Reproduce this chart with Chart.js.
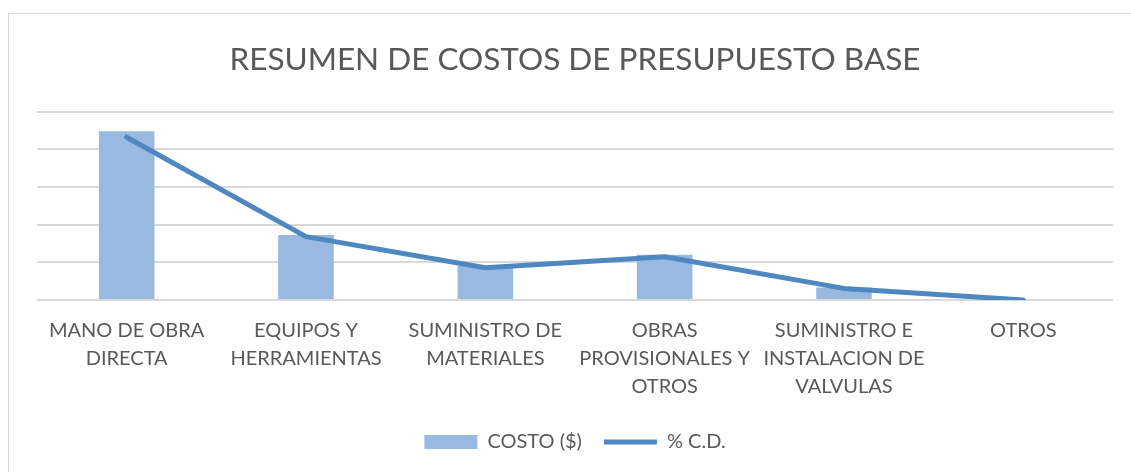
<!DOCTYPE html>
<html>
<head>
<meta charset="utf-8">
<script src="https://cdn.jsdelivr.net/npm/chart.js@4/dist/chart.umd.min.js"></script>
<style>
  html, body { margin: 0; padding: 0; background: #fff; }
  #frame {
    position: absolute; left: 8px; top: 13px; width: 1200px; height: 500px;
    border-left: 1px solid #d9d9d9; border-top: 1px solid #d9d9d9;
  }
  #wrap { position: absolute; left: 0; top: 0; width: 1131px; height: 472px; }
</style>
</head>
<body>
<div id="frame"></div>
<div id="wrap"><canvas id="chart" width="1131" height="472"></canvas></div>
<script>
// --- Data ---
const categories = [
  ['MANO DE OBRA', 'DIRECTA'],
  ['EQUIPOS Y', 'HERRAMIENTAS'],
  ['SUMINISTRO DE', 'MATERIALES'],
  ['OBRAS', 'PROVISIONALES Y', 'OTROS'],
  ['SUMINISTRO E', 'INSTALACION DE', 'VALVULAS'],
  ['OTROS']
];
const costo = [4.48, 1.73, 0.90, 1.20, 0.33, 0];        // bar heights (axis units, labels hidden)
const pctCD = [51.9, 20.2, 10.3, 13.8, 3.7, 0];          // % C.D. on secondary axis

const textColor = '#595959';
const fontFamily = 'Lato, "Open Sans", sans-serif';

new Chart(document.getElementById('chart').getContext('2d'), {
  data: {
    labels: categories,
    datasets: [
      {
        type: 'bar',
        label: 'COSTO ($)',
        data: costo,
        backgroundColor: '#9AB9E0',
        borderWidth: 0,
        barPercentage: 0.31,
        categoryPercentage: 1,
        pointStyle: 'rect',
        yAxisID: 'y',
        order: 1
      },
      {
        type: 'line',
        label: '% C.D.',
        data: pctCD,
        borderColor: '#4F88C1',
        backgroundColor: '#4F88C1',
        borderWidth: 5,
        borderCapStyle: 'round',
        borderJoinStyle: 'round',
        pointRadius: 0,
        pointStyle: 'line',
        tension: 0,
        yAxisID: 'y1',
        order: 0
      }
    ]
  },
  options: {
    responsive: false,
    animation: false,
    layout: { padding: { left: 37, right: 18, top: 0, bottom: 10 } },
    plugins: {
      title: {
        display: true,
        text: 'RESUMEN DE COSTOS DE PRESUPUESTO BASE',
        color: textColor,
        font: { size: 31.5, family: fontFamily, weight: 'normal' },
        padding: { top: 41, bottom: 33 }
      },
      legend: {
        position: 'bottom',
        labels: {
          usePointStyle: true,
          pointStyleWidth: 53,
          boxHeight: 14,
          padding: 22,
          color: textColor,
          font: { size: 20, family: fontFamily },
          sort: (a, b) => a.datasetIndex - b.datasetIndex
        }
      },
      tooltip: { enabled: false }
    },
    scales: {
      x: {
        grid: { display: false },
        border: { display: false },
        ticks: {
          color: textColor,
          maxRotation: 0,
          autoSkip: false,
          padding: 9,
          font: { size: 20, family: fontFamily, lineHeight: 1.4 }
        }
      },
      y: {
        min: 0, max: 5,
        ticks: { display: false, stepSize: 1 },
        border: { display: false },
        grid: { color: '#d9d9d9', lineWidth: 2, drawTicks: false }
      },
      y1: {
        position: 'right',
        min: 0, max: 60,
        display: false
      }
    }
  }
});
</script>
</body>
</html>
